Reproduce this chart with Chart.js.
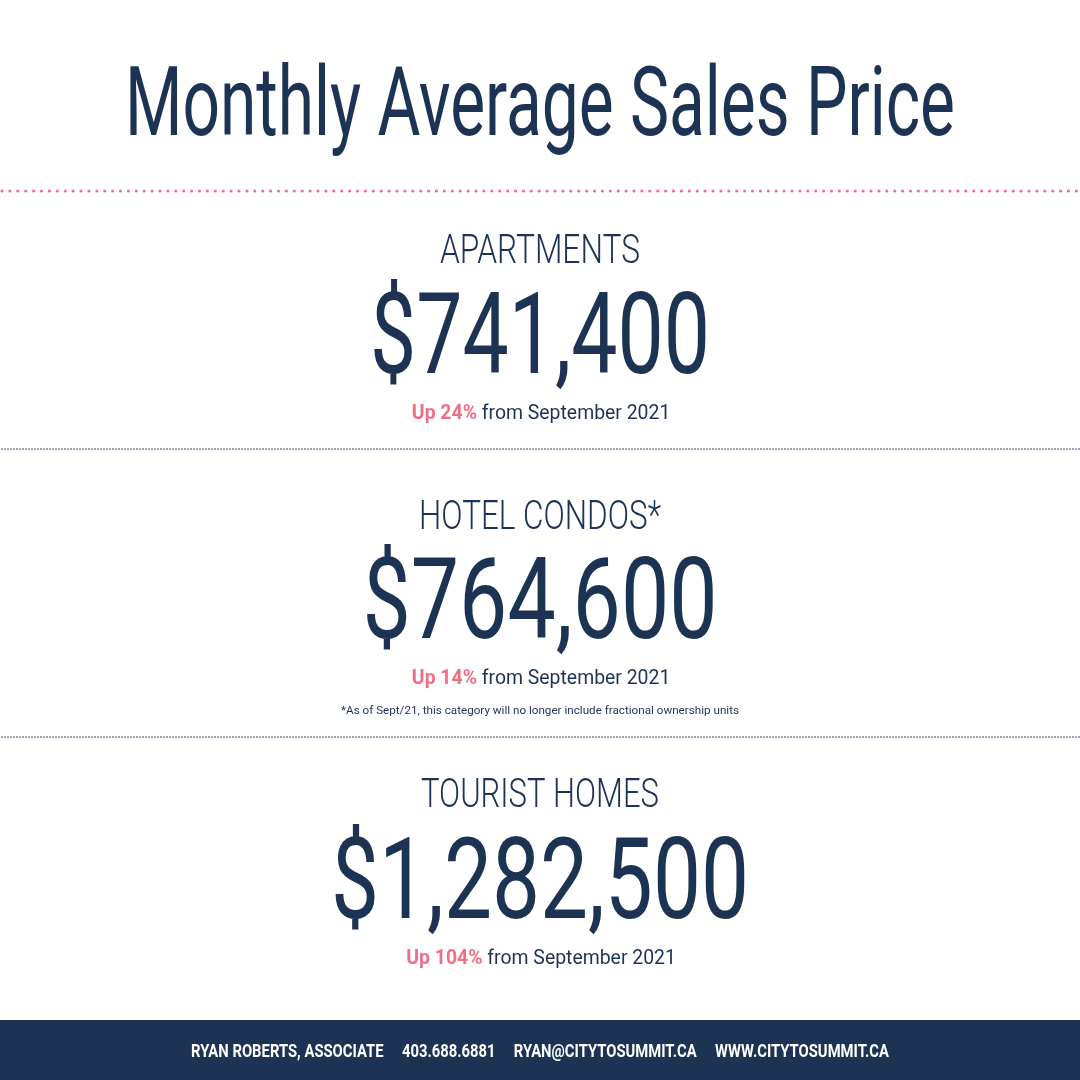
<!DOCTYPE html>
<html><head><meta charset="utf-8">
<script src="https://cdn.jsdelivr.net/npm/chart.js@4"></script>
<style>html,body{margin:0;padding:0;background:#fff}#wrap{width:1080px;height:1080px}</style>
</head><body><div id="wrap"><canvas id="c" width="1080" height="1080"></canvas></div>
<script>
const title = "Monthly Average Sales Price";
const categories = ["APARTMENTS", "HOTEL CONDOS*", "TOURIST HOMES"];
const prices = [741400, 764600, 1282500];
const changes = [24, 14, 104];
const compareLabel = "from September 2021";
const footnote = "*As of Sept/21, this category will no longer include fractional ownership units";
const footer = "RYAN ROBERTS, ASSOCIATE     403.688.6881     RYAN@CITYTOSUMMIT.CA     WWW.CITYTOSUMMIT.CA";

const NAVY = "#1d3354", PINK = "#f06f86";
const catY = [263, 529, 807], catW = [200, 242, 238];
const priceY = [373, 638, 918], priceW = [340, 355, 418];
const upY = [419, 684, 964];

function fitText(ctx, txt, x, y, font, w, color, align) {
  ctx.save(); ctx.font = font; ctx.fillStyle = color;
  const m = ctx.measureText(txt).width;
  const s = w / m;
  ctx.translate(x, y); ctx.scale(s, 1);
  ctx.textAlign = align || "center"; ctx.textBaseline = "alphabetic";
  ctx.fillText(txt, 0, 0); ctx.restore();
}
function dots(ctx, y, color, r, gap) {
  ctx.save(); ctx.fillStyle = color;
  for (let x = 2; x < 1080; x += gap) { ctx.beginPath(); ctx.arc(x, y, r, 0, Math.PI * 2); ctx.fill(); }
  ctx.restore();
}
const fmt = v => "$" + v.toLocaleString("en-US");

const plugin = {
  id: "info",
  afterDraw(chart) {
    const ctx = chart.ctx;
    fitText(ctx, title, 540, 135, "400 96px Roboto", 830, NAVY);
    dots(ctx, 191, PINK, 1.6, 7.9);
    dots(ctx, 449, NAVY, 0.8, 3);
    dots(ctx, 737, NAVY, 0.8, 3);
    categories.forEach((c, i) => {
      fitText(ctx, c, 540, catY[i], "300 40px Roboto", catW[i], NAVY);
      fitText(ctx, fmt(prices[i]), 540, priceY[i], "400 114px Roboto", priceW[i], NAVY);
      ctx.save(); ctx.textBaseline = "alphabetic";
      const sx = 0.97;
      ctx.font = "700 20px Roboto"; const a = "Up " + changes[i] + "%";
      const aw = ctx.measureText(a).width * sx;
      ctx.font = "300 20px Roboto"; const b = " " + compareLabel;
      const bw = ctx.measureText(b).width * sx;
      const x0 = 540 - (aw + bw) / 2;
      ctx.translate(x0, upY[i]); ctx.scale(sx, 1);
      ctx.font = "700 20px Roboto"; ctx.fillStyle = PINK; ctx.textAlign = "left"; ctx.fillText(a, 0, 0);
      ctx.font = "400 20px Roboto"; ctx.fillStyle = NAVY; ctx.fillText(b, aw / sx, 0);
      ctx.restore();
    });
    fitText(ctx, footnote, 540, 714, "400 11px Roboto", 398, NAVY);
    ctx.save(); ctx.fillStyle = NAVY; ctx.fillRect(0, 1020, 1080, 60); ctx.restore();
    fitText(ctx, footer, 540, 1057, "700 18px Roboto", 698, "#ffffff");
  }
};

new Chart(document.getElementById("c"), {
  type: "bar",
  data: { labels: categories, datasets: [{ data: prices, backgroundColor: "rgba(0,0,0,0)" }] },
  options: {
    responsive: false, animation: false,
    plugins: { legend: { display: false }, tooltip: { enabled: false } },
    scales: { x: { display: false }, y: { display: false } }
  },
  plugins: [plugin]
});
</script></body></html>
